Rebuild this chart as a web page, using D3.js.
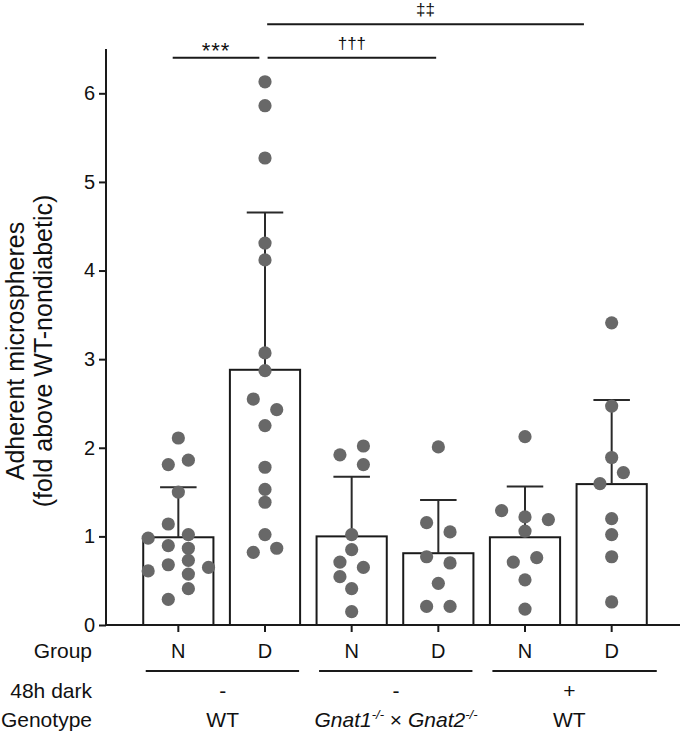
<!DOCTYPE html>
<html><head><meta charset="utf-8">
<script src="https://cdn.jsdelivr.net/npm/d3@7"></script>
<style>
body{margin:0;background:#fff}
svg{display:block}
text{font-family:"Liberation Sans",Arial,Helvetica,sans-serif;fill:#111}
</style>
</head><body>
<svg id="chart" width="685" height="733"></svg>
<script>
// ---- data ----
const categories = ["WT-N","WT-D","Gnat-N","Gnat-D","Dark-N","Dark-D"];
const groupLabels = ["N","D","N","D","N","D"];
const means = [0.99, 2.88, 1.0, 0.81, 0.99, 1.59];
const sds = [0.565, 1.775, 0.674, 0.601, 0.572, 0.95];
const yTicks = [0,1,2,3,4,5,6];

const values1 = [2.11,1.81,1.86,1.50,1.14,0.98,1.02,0.895,0.866,0.73,0.61,0.68,0.65,0.575,0.41,0.29];
const jitter1 = [0,-0.143,0.143,0,-0.143,-0.43,0.143,-0.143,0.143,0.143,-0.43,-0.143,0.43,0.143,0.143,-0.143];
const values2 = [6.13,5.86,5.27,4.31,4.12,3.07,2.87,2.55,2.43,2.25,1.78,1.53,1.385,1.02,0.82,0.866];
const jitter2 = [0,0,0,0,0,0,0,-0.167,0.167,0,0,0,0,0,-0.167,0.167];
const values3 = [1.92,2.02,1.81,1.02,0.85,0.71,0.65,0.545,0.41,0.15];
const jitter3 = [-0.167,0.167,0.167,0,0,-0.167,0.167,-0.167,0,0];
const values4 = [2.01,1.155,1.05,0.77,0.70,0.47,0.21,0.21];
const jitter4 = [0,-0.167,0.167,-0.167,0.167,0,-0.167,0.167];
const values5 = [2.125,1.29,1.22,1.19,1.06,0.76,0.71,0.51,0.18];
const jitter5 = [0,-0.333,0,0.333,0,0.167,-0.167,0,0];
const values6 = [3.41,2.47,1.89,1.72,1.595,1.20,1.02,0.77,0.26];
const jitter6 = [0,0,0,0.167,-0.167,0,0,0,0];

const darkLabels = ["-","-","+"];
const genotypeLabels = ["WT","GNAT","WT"];

const sigLabels = ["***","†††","‡‡"];
const sigFrom = [-0.065, 1.03, 1.025];
const sigTo = [0.935, 2.975, 4.68];
const sigLevel = [6.4, 6.4, 6.78];

// ---- drawing ----
const svg = d3.select("#chart");
const x = d3.scaleBand().domain(categories).range([135,655]).paddingInner(0.19).paddingOuter(0.095);
const bw = x.bandwidth();
const cx = i => x(categories[i]) + bw/2;
const xi = d3.scaleLinear().domain([0,1]).range([cx(0), cx(1)]);
const y = d3.scaleLinear().domain([0,6.5]).range([625,49]);
const axisX = 106;

const allVals = [values1,values2,values3,values4,values5,values6];
const allJit = [jitter1,jitter2,jitter3,jitter4,jitter5,jitter6];

// bars
svg.append("g").selectAll("rect").data(means).join("rect")
  .attr("x",(d,i)=>x(categories[i])).attr("y",d=>y(d))
  .attr("width",bw).attr("height",d=>y(0)-y(d))
  .attr("fill","#fff").attr("stroke","#1a1a1a").attr("stroke-width",2);

// error bars
const eb = svg.append("g").attr("stroke","#2a2a2a").attr("stroke-width",2);
means.forEach((m,i)=>{
  eb.append("line").attr("x1",cx(i)).attr("x2",cx(i)).attr("y1",y(m)).attr("y2",y(m+sds[i]));
  eb.append("line").attr("x1",cx(i)-bw*0.26).attr("x2",cx(i)+bw*0.26).attr("y1",y(m+sds[i])).attr("y2",y(m+sds[i]));
});

// dots
const dg = svg.append("g").attr("fill","#686868");
allVals.forEach((vals,i)=>{
  dg.selectAll(null).data(vals).join("circle")
    .attr("cx",(d,j)=>cx(i)+allJit[i][j]*bw)
    .attr("cy",d=>y(d)).attr("r",6.6);
});

// y axis
const ya = svg.append("g").attr("transform",`translate(${axisX},0)`)
  .call(d3.axisLeft(y).tickValues(yTicks).tickSize(7).tickPadding(4).tickFormat(d3.format("d")));
ya.select(".domain").attr("stroke","#1a1a1a").attr("stroke-width",2).attr("d",`M0,${y(0)}V${y(6.5)}`);
ya.selectAll(".tick line").attr("stroke","#1a1a1a").attr("stroke-width",2);
ya.selectAll(".tick text").attr("font-size",20).attr("font-family",null).attr("fill","#111");

// x baseline and ticks
svg.append("line").attr("x1",axisX).attr("x2",680).attr("y1",y(0)).attr("y2",y(0))
  .attr("stroke","#1a1a1a").attr("stroke-width",2);
svg.append("g").selectAll("line").data(categories).join("line")
  .attr("x1",(d,i)=>cx(i)).attr("x2",(d,i)=>cx(i)).attr("y1",y(0)).attr("y2",y(0)+7)
  .attr("stroke","#1a1a1a").attr("stroke-width",2);

// y title
svg.append("text").attr("transform","translate(23.5,351) rotate(-90)")
  .attr("text-anchor","middle").attr("font-size",25).text("Adherent microspheres");
svg.append("text").attr("transform","translate(52,351) rotate(-90)")
  .attr("text-anchor","middle").attr("font-size",25).text("(fold above WT-nondiabetic)");

// bottom rows
const fs = 21;
svg.append("text").attr("x",92).attr("y",658).attr("text-anchor","end").attr("font-size",fs).text("Group");
svg.append("text").attr("x",92).attr("y",698).attr("text-anchor","end").attr("font-size",fs).text("48h dark");
svg.append("text").attr("x",92).attr("y",726.5).attr("text-anchor","end").attr("font-size",fs).text("Genotype");
svg.append("g").selectAll("text").data(groupLabels).join("text")
  .attr("x",(d,i)=>cx(i)).attr("y",658).attr("text-anchor","middle").attr("font-size",20).text(d=>d);

// separator lines under pairs
const sep = svg.append("g").attr("stroke","#1a1a1a").attr("stroke-width",2);
[0,1,2].forEach(k=>{
  const a = x(categories[2*k]) + 2.5;
  const b = x(categories[2*k+1]) + bw - 1 + (k===2 ? 11 : 0);
  sep.append("line").attr("x1",a).attr("x2",b).attr("y1",671).attr("y2",671);
});

darkLabels.forEach((t,k)=>{
  const m = (cx(2*k)+cx(2*k+1))/2;
  svg.append("text").attr("x",m+1).attr("y",698).attr("text-anchor","middle").attr("font-size",fs).text(t);
});
genotypeLabels.forEach((t,k)=>{
  const m = (cx(2*k)+cx(2*k+1))/2 + 1;
  const tx = svg.append("text").attr("x",m).attr("y",726.5).attr("text-anchor","middle").attr("font-size",fs);
  if (t === "GNAT") {
    tx.append("tspan").attr("font-style","italic").text("Gnat1");
    tx.append("tspan").attr("font-style","italic").attr("font-size",13).attr("dy",-8).text("-/-");
    tx.append("tspan").attr("dy",8).text(" \u00d7 ");
    tx.append("tspan").attr("font-style","italic").text("Gnat2");
    tx.append("tspan").attr("font-style","italic").attr("font-size",13).attr("dy",-8).text("-/-");
  } else {
    tx.text(t);
  }
});

// significance
const sg = svg.append("g");
sigLabels.forEach((lab,k)=>{
  const x1 = xi(sigFrom[k]), x2 = xi(sigTo[k]), yy = y(sigLevel[k]);
  sg.append("line").attr("x1",x1).attr("x2",x2).attr("y1",yy).attr("y2",yy)
    .attr("stroke","#1a1a1a").attr("stroke-width",2);
  const big = lab === "***";
  sg.append("text").attr("x",(x1+x2)/2).attr("y", big ? yy+0.5 : yy-9)
    .attr("text-anchor","middle").attr("font-size", big ? 22 : 17)
    .attr("letter-spacing", big ? 1 : 0).text(lab);
});
</script>
</body></html>
